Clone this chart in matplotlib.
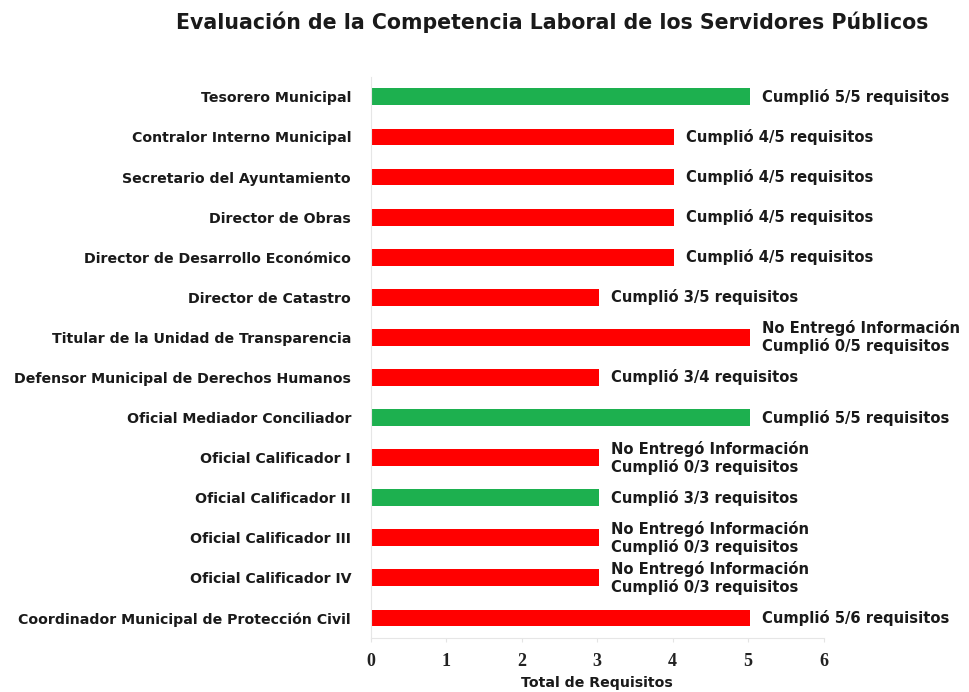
"""
Evaluación de la Competencia Laboral de los Servidores Públicos
Horizontal bar chart of requirements per public servant
"""
import matplotlib
matplotlib.use('Agg')
import matplotlib.pyplot as plt

# Data
puestos = [
    'Tesorero Municipal',
    'Contralor Interno Municipal',
    'Secretario del Ayuntamiento',
    'Director de Obras',
    'Director de Desarrollo Económico',
    'Director de Catastro',
    'Titular de la Unidad de Transparencia',
    'Defensor Municipal de Derechos Humanos',
    'Oficial Mediador Conciliador',
    'Oficial Calificador I',
    'Oficial Calificador II',
    'Oficial Calificador III',
    'Oficial Calificador IV',
    'Coordinador Municipal de Protección Civil',
]
total_requisitos = [5, 4, 4, 4, 4, 3, 5, 3, 5, 3, 3, 3, 3, 5]
cumplio = [True, False, False, False, False, False, False, False, True, False, True, False, False, False]
etiquetas = [
    'Cumplió 5/5 requisitos',
    'Cumplió 4/5 requisitos',
    'Cumplió 4/5 requisitos',
    'Cumplió 4/5 requisitos',
    'Cumplió 4/5 requisitos',
    'Cumplió 3/5 requisitos',
    'No Entregó Información\nCumplió 0/5 requisitos',
    'Cumplió 3/4 requisitos',
    'Cumplió 5/5 requisitos',
    'No Entregó Información\nCumplió 0/3 requisitos',
    'Cumplió 3/3 requisitos',
    'No Entregó Información\nCumplió 0/3 requisitos',
    'No Entregó Información\nCumplió 0/3 requisitos',
    'Cumplió 5/6 requisitos',
]
x_ticks = [0, 1, 2, 3, 4, 5, 6]

GREEN = '#1db04f'
RED = '#ff0000'
SANS = 'DejaVu Sans'

fig = plt.figure(figsize=(9.7, 6.92), dpi=100)
fig.patch.set_facecolor('white')
ax = fig.add_axes([0.382, 0.078, 0.467, 0.811])

y = list(range(len(puestos)))
colors = [GREEN if c else RED for c in cumplio]
bars = ax.barh(y, total_requisitos, height=0.42, color=colors, left=0.02)

for yi, val, lab in zip(y, total_requisitos, etiquetas):
    ax.text(val + 0.18, yi, lab, va='center', ha='left', fontsize=10.6,
            fontweight='bold', family=SANS, color='#1a1a1a', linespacing=1.15)

ax.set_ylim(len(puestos) - 0.5, -0.5)
ax.set_xlim(0, 6)
ax.set_yticks(y)
ax.set_yticklabels(puestos, fontsize=10.2, fontweight='bold', family=SANS, color='#1a1a1a')
ax.set_xticks(x_ticks)
ax.set_xticklabels([str(t) for t in x_ticks], fontsize=13, fontweight='bold',
                   family='Liberation Serif', color='#222222')
ax.tick_params(axis='y', length=0, pad=14)
ax.tick_params(axis='x', length=3, color='#e4e4e4', pad=8)
ax.set_xlabel('Total de Requisitos', fontsize=10.2, fontweight='bold', family=SANS,
              color='#1a1a1a', labelpad=4)

for side in ['top', 'right']:
    ax.spines[side].set_visible(False)
for side in ['left', 'bottom']:
    ax.spines[side].set_color('#e6e6e6')

fig.text(0.569, 0.968, 'Evaluación de la Competencia Laboral de los Servidores Públicos',
         ha='center', va='center', fontsize=14.8, fontweight='bold', family=SANS,
         color='#1a1a1a')

plt.savefig('out.png', dpi=100, facecolor='white')
plt.close()
